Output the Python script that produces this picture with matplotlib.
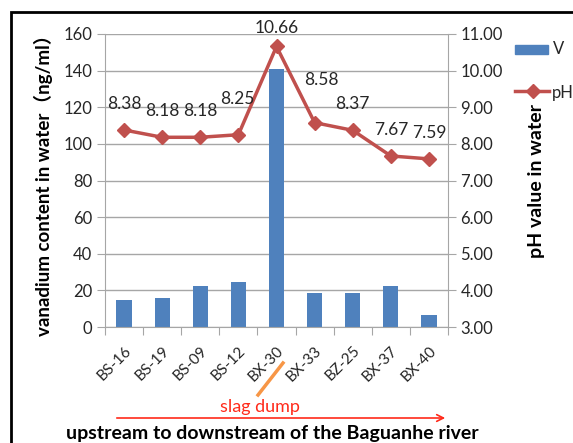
import matplotlib.pyplot as plt
from matplotlib.patches import Rectangle, FancyArrowPatch
from matplotlib.lines import Line2D

plt.rcParams['font.family'] = ['Lato', 'Noto Sans CJK SC']

sites = ['BS-16', 'BS-19', 'BS-09', 'BS-12', 'BX-30', 'BX-33', 'BZ-25', 'BX-37', 'BX-40']
vanadium = [14.7, 15.7, 22.4, 24.6, 141, 18.4, 18.4, 22.4, 6.7]
ph = [8.38, 8.18, 8.18, 8.25, 10.66, 8.58, 8.37, 7.67, 7.59]

bar_col = '#4F81BD'
line_col = '#C0504D'
grid_col = '#A6A6A6'
txt_col = '#262626'

fig = plt.figure(figsize=(5.73, 4.43), dpi=100)
ax = fig.add_axes([105/573, 1 - 327/443, 343/573, 293/443])
x = list(range(len(sites)))

ax.bar(x, vanadium, width=0.4, color=bar_col, zorder=2, label='V')
ax.set_ylim(0, 160)
ax.set_yticks(range(0, 161, 20))
ax.set_xlim(-0.5, len(sites) - 0.5)
ax.yaxis.grid(True, color=grid_col, lw=1, zorder=0)
ax.set_xticks([i - 0.5 for i in range(len(sites) + 1)], minor=False)
ax.set_xticklabels([])
ax.set_xticks(x, minor=True)
ax.set_xticklabels(sites, minor=True, rotation=45, ha='right', va='top',
                   rotation_mode='anchor', fontsize=11, color=txt_col)
ax.tick_params(axis='x', which='major', length=6, color=grid_col, direction='out')
ax.tick_params(axis='x', which='minor', length=0, pad=12)
ax.tick_params(axis='y', length=6, color=grid_col, labelsize=12, pad=3, labelcolor=txt_col)
for s in ['top', 'right']:
    ax.spines[s].set_visible(False)
for s in ['left', 'bottom']:
    ax.spines[s].set_color(grid_col)
ax.set_ylabel('vanadium content in water（ng/ml）', fontsize=13.5, fontweight='bold', labelpad=8)

ax2 = ax.twinx()
ax2.plot(x, ph, color=line_col, lw=2.5, marker='D', markersize=7, zorder=3, label='pH')
ax2.set_ylim(3, 11)
ax2.set_yticks(range(3, 12))
ax2.set_yticklabels(['%.2f' % v for v in range(3, 12)])
ax2.tick_params(axis='y', length=6, color=grid_col, labelsize=12, pad=3, labelcolor=txt_col)
for s in ['top', 'left', 'bottom']:
    ax2.spines[s].set_visible(False)
ax2.spines['right'].set_color(grid_col)
ax2.set_ylabel('pH value in water', fontsize=14, fontweight='bold', labelpad=18)

offs = {3: (-1, 26), 4: (0, 13), 5: (5, 31)}
for i, v in enumerate(ph):
    dx, dy = offs.get(i, (0, 19))
    ax2.annotate('%.2f' % v, (i, v), xytext=(dx, dy), textcoords='offset points',
                 ha='center', va='center', fontsize=12.5, color=txt_col)

# legend
fig.patches.append(Rectangle((515/573, 1 - 54/443), 33/573, 9/443,
                             transform=fig.transFigure, color=bar_col))
fig.text(553/573, 1 - 49/443, 'V', fontsize=12, va='center', color=txt_col)
fig.lines.append(Line2D([515/573, 549/573], [1 - 91/443] * 2, transform=fig.transFigure,
                        color=line_col, lw=2.5))
fig.lines.append(Line2D([533/573], [1 - 91/443], transform=fig.transFigure,
                        color=line_col, marker='D', markersize=7))
fig.text(552/573, 1 - 93/443, 'pH', fontsize=12, va='center', color=txt_col)

# annotations below axis
fig.lines.append(Line2D([258/573, 283/573], [1 - 395/443, 1 - 363/443],
                        transform=fig.transFigure, color='#F79646', lw=2.5))
fig.text(260/573, 1 - 407/443, 'slag dump', color='#FF2A1A', fontsize=13,
         ha='center', va='center')
fig.patches.append(FancyArrowPatch((114/573, 1 - 418/443), (448/573, 1 - 418/443),
                                   transform=fig.transFigure, arrowstyle='->',
                                   mutation_scale=12, color='#FF2A1A', lw=1.2))
fig.text(272/573, 1 - 433/443, 'upstream to downstream of the Baguanhe river',
         fontsize=14, fontweight='bold', ha='center', va='center')

# outer frame
fig.patches.append(Rectangle((11/573, -0.1), 1, 1 - 12/443 + 0.1,
                             transform=fig.transFigure, fill=False, ec='black', lw=2))

fig.savefig('out.png', dpi=100)
